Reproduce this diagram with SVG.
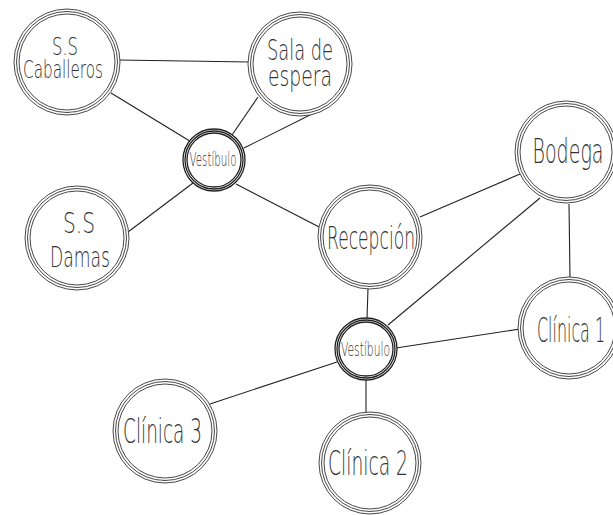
<svg xmlns="http://www.w3.org/2000/svg" width="613" height="515" viewBox="0 0 613 515">
<style>
.bg{fill:#fff}
.edge{stroke:#222;stroke-width:1.1;fill:none}
.ring{fill:#fff;stroke:#333;stroke-width:0.9}
.ring2{fill:none;stroke:#333;stroke-width:0.9}
.sring{fill:#fff;stroke:#222;stroke-width:1.3}
.sring2{fill:none;stroke:#222;stroke-width:1.3}
.lbl{font-family:"DejaVu Sans",Roboto,sans-serif;font-weight:200;fill:#333;text-anchor:middle}
</style>
<rect class="bg" x="0" y="0" width="613" height="515"/>
<g id="connectors">
<line class="edge" x1="118" y1="60" x2="250" y2="62"/>
<line class="edge" x1="111" y1="93" x2="193" y2="143"/>
<line class="edge" x1="258" y1="97" x2="232" y2="135"/>
<line class="edge" x1="316" y1="112" x2="244" y2="148"/>
<line class="edge" x1="128" y1="232" x2="193" y2="183"/>
<line class="edge" x1="236" y1="184" x2="323" y2="229"/>
<line class="edge" x1="420" y1="217" x2="520" y2="174"/>
<line class="edge" x1="540" y1="198" x2="388" y2="325"/>
<line class="edge" x1="569" y1="204" x2="570" y2="278"/>
<line class="edge" x1="368" y1="288" x2="367" y2="319"/>
<line class="edge" x1="396" y1="348" x2="520" y2="329"/>
<line class="edge" x1="337" y1="362" x2="210" y2="404"/>
<line class="edge" x1="366" y1="380" x2="366" y2="412"/>
</g>
<g id="ss-caballeros">
<circle class="ring" cx="67" cy="62" r="53"/><circle class="ring2" cx="67" cy="62" r="50.5"/><circle class="ring2" cx="67" cy="62" r="48"/>
<text class="lbl" x="65" y="55" font-size="25" textLength="26" lengthAdjust="spacingAndGlyphs">S.S</text>
<text class="lbl" x="63" y="78" font-size="25" textLength="80" lengthAdjust="spacingAndGlyphs">Caballeros</text>
</g>
<g id="sala-espera">
<circle class="ring" cx="300" cy="64" r="52"/><circle class="ring2" cx="300" cy="64" r="49.5"/><circle class="ring2" cx="300" cy="64" r="47"/>
<text class="lbl" x="300" y="60" font-size="28" textLength="66" lengthAdjust="spacingAndGlyphs">Sala de</text>
<text class="lbl" x="300" y="86" font-size="28" textLength="64" lengthAdjust="spacingAndGlyphs">espera</text>
</g>
<g id="vestibulo-1">
<circle class="sring" cx="214" cy="160" r="31"/><circle class="sring2" cx="214" cy="160" r="29"/><circle class="sring2" cx="214" cy="160" r="27"/>
<text class="lbl" x="213" y="166" font-size="19" textLength="47" lengthAdjust="spacingAndGlyphs">Vestíbulo</text>
</g>
<g id="ss-damas">
<circle class="ring" cx="77" cy="238" r="52"/><circle class="ring2" cx="77" cy="238" r="49.5"/><circle class="ring2" cx="77" cy="238" r="47"/>
<text class="lbl" x="79" y="233" font-size="29" textLength="32" lengthAdjust="spacingAndGlyphs">S.S</text>
<text class="lbl" x="80" y="267" font-size="29" textLength="60" lengthAdjust="spacingAndGlyphs">Damas</text>
</g>
<g id="recepcion">
<circle class="ring" cx="370" cy="237" r="52"/><circle class="ring2" cx="370" cy="237" r="49.5"/><circle class="ring2" cx="370" cy="237" r="47"/>
<text class="lbl" x="371" y="249" font-size="32" textLength="88" lengthAdjust="spacingAndGlyphs">Recepción</text>
</g>
<g id="bodega">
<circle class="ring" cx="566" cy="152" r="51"/><circle class="ring2" cx="566" cy="152" r="48.5"/><circle class="ring2" cx="566" cy="152" r="46"/>
<text class="lbl" x="568" y="163" font-size="33" textLength="71" lengthAdjust="spacingAndGlyphs">Bodega</text>
</g>
<g id="clinica-1">
<circle class="ring" cx="569" cy="328" r="51"/><circle class="ring2" cx="569" cy="328" r="48.5"/><circle class="ring2" cx="569" cy="328" r="46"/>
<text class="lbl" x="571" y="342" font-size="33" textLength="68" lengthAdjust="spacingAndGlyphs">Clínica 1</text>
</g>
<g id="vestibulo-2">
<circle class="sring" cx="366" cy="349" r="31"/><circle class="sring2" cx="366" cy="349" r="29"/><circle class="sring2" cx="366" cy="349" r="27"/>
<text class="lbl" x="365.5" y="356" font-size="19" textLength="49" lengthAdjust="spacingAndGlyphs">Vestíbulo</text>
</g>
<g id="clinica-3">
<circle class="ring" cx="165" cy="431" r="52"/><circle class="ring2" cx="165" cy="431" r="49.5"/><circle class="ring2" cx="165" cy="431" r="47"/>
<text class="lbl" x="162.5" y="443" font-size="33" textLength="79" lengthAdjust="spacingAndGlyphs">Clínica 3</text>
</g>
<g id="clinica-2">
<circle class="ring" cx="370" cy="463" r="51"/><circle class="ring2" cx="370" cy="463" r="48.5"/><circle class="ring2" cx="370" cy="463" r="46"/>
<text class="lbl" x="368" y="475" font-size="33" textLength="80" lengthAdjust="spacingAndGlyphs">Clínica 2</text>
</g>
</svg>
